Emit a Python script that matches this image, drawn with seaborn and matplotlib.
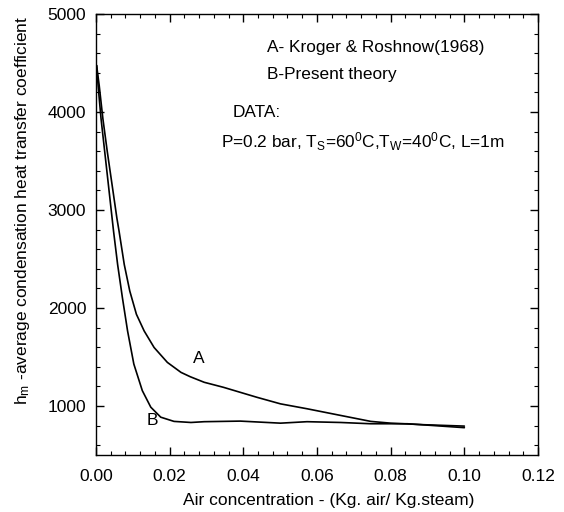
import matplotlib
matplotlib.use("Agg")
import matplotlib.pyplot as plt
import seaborn as sns
import pandas as pd
from matplotlib.ticker import MultipleLocator

# Data
x_a = [0.0002, 0.0009, 0.0019, 0.0031, 0.0044, 0.0057, 0.0063, 0.0077, 0.0092,
       0.0110, 0.0131, 0.0158, 0.0194, 0.0231, 0.0256, 0.0294, 0.0346, 0.0437,
       0.0501, 0.0573, 0.0664, 0.0746, 0.0800, 0.0891, 0.1000]
h_a = [4474, 4271, 3932, 3594, 3256, 2917, 2782, 2444, 2173,
       1936, 1766, 1597, 1445, 1343, 1299, 1242, 1191, 1089,
       1022, 972, 904, 843, 825, 809, 795]
x_b = [0.0002, 0.0006, 0.0014, 0.0024, 0.0034, 0.0044, 0.0048, 0.0059, 0.0072,
       0.0086, 0.0103, 0.0126, 0.0149, 0.0176, 0.0212, 0.0258, 0.0294, 0.0392,
       0.0501, 0.0573, 0.0664, 0.0746, 0.0845, 0.1000]
h_b = [4474, 4271, 3932, 3594, 3256, 2917, 2782, 2444, 2105,
       1766, 1428, 1157, 988, 886, 843, 832, 840, 846,
       825, 840, 832, 819, 819, 779]

df = pd.concat([
    pd.DataFrame({"x": x_a, "h": h_a, "curve": "A"}),
    pd.DataFrame({"x": x_b, "h": h_b, "curve": "B"}),
])

sns.set_theme(style="ticks")
plt.rcParams["font.family"] = ["Liberation Sans", "DejaVu Sans"]
plt.rcParams["mathtext.fontset"] = "custom"
plt.rcParams["mathtext.rm"] = "Liberation Sans"
plt.rcParams["mathtext.it"] = "Liberation Sans"
plt.rcParams["text.color"] = "black"
plt.rcParams["axes.labelcolor"] = "black"

fig = plt.figure(figsize=(5.64, 5.12), dpi=100)
ax = fig.add_axes([0.170, 0.1113, 0.784, 0.8614])

sns.lineplot(data=df, x="x", y="h", hue="curve", palette=["black", "black"],
             linewidth=1.2, legend=False, ax=ax, sort=False, estimator=None)

ax.set_xlim(0, 0.12)
ax.set_ylim(500, 5000)
ax.xaxis.set_major_locator(MultipleLocator(0.02))
ax.xaxis.set_minor_locator(MultipleLocator(0.004))
ax.yaxis.set_major_locator(MultipleLocator(1000))
ax.yaxis.set_minor_locator(MultipleLocator(200))
ax.set_xticklabels([f"{v:.2f}" for v in ax.get_xticks()])
ax.tick_params(which="both", direction="in", top=True, right=True, labelsize=12.5, colors="black")
ax.tick_params(axis="x", which="major", pad=10)
ax.tick_params(axis="y", which="major", pad=7)
ax.tick_params(which="major", length=6, width=1)
ax.tick_params(which="minor", length=3, width=0.8)
for s in ax.spines.values():
    s.set_linewidth(1.0)
    s.set_color("black")

ax.set_xlabel("Air concentration - (Kg. air/ Kg.steam)", fontsize=12.5, color="black")
ax.set_ylabel(r"h$_\mathrm{m}$ -average condensation heat transfer coefficient", fontsize=12.5, color="black")
ax.xaxis.set_label_coords(0.527, -0.103)
ax.yaxis.set_label_coords(-0.167, 0.555)
ax.xaxis.label.set_va("center")
ax.yaxis.label.set_va("center")

ax.text(0.028, 1482, "A", fontsize=12.5, ha="center", va="center", color="black")
ax.text(0.0152, 853, "B", fontsize=12.5, ha="center", va="center", color="black")
ax.text(0.0464, 4660, "A- Kroger & Roshnow(1968)", fontsize=12.4, ha="left", va="center", color="black")
ax.text(0.0464, 4381, "B-Present theory", fontsize=12.4, ha="left", va="center", color="black")
ax.text(0.0371, 3990, "DATA:", fontsize=12.4, ha="left", va="center", color="black")
ax.text(0.0340, 3700, r"P=0.2 bar, T$_\mathrm{S}$=60$^\mathrm{0}$C,T$_\mathrm{W}$=40$^\mathrm{0}$C, L=1m",
        fontsize=12.4, ha="left", va="center", color="black")

fig.savefig("out.png", dpi=100)
